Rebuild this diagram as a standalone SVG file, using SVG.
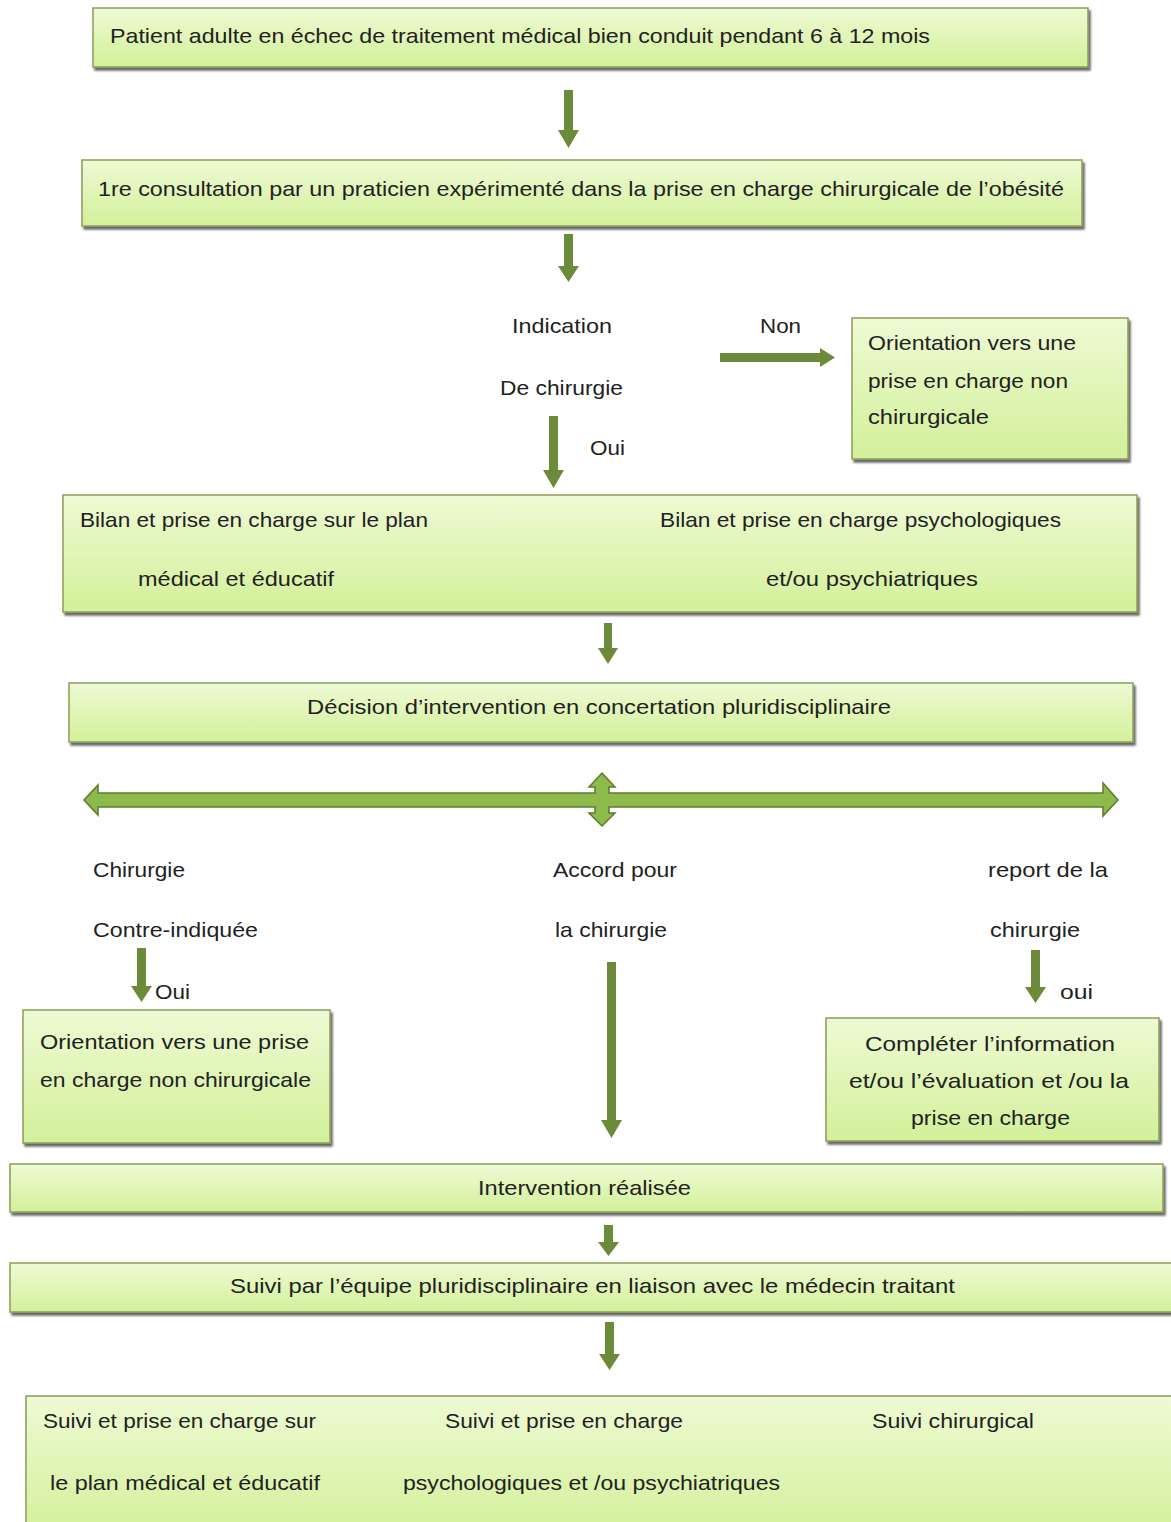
<svg xmlns="http://www.w3.org/2000/svg" width="1171" height="1522" viewBox="0 0 1171 1522">
<defs>
<linearGradient id="g" x1="0" y1="0" x2="0" y2="1">
<stop offset="0" stop-color="#eefad4"/>
<stop offset="1" stop-color="#d3f09a"/>
</linearGradient>
<filter id="sh" x="-5%" y="-20%" width="110%" height="140%">
<feGaussianBlur in="SourceAlpha" stdDeviation="1.2"/>
<feOffset dx="2" dy="3"/>
<feComponentTransfer><feFuncA type="linear" slope="0.6"/></feComponentTransfer>
<feMerge><feMergeNode/><feMergeNode in="SourceGraphic"/></feMerge>
</filter>
</defs>
<style>
.box{fill:url(#g);stroke:#8c9c5a;stroke-width:1.5;filter:url(#sh)}
text{font-family:"Liberation Sans",Arial,sans-serif;font-size:21px;fill:#222}
.arr{fill:#6b8a3a}
.big{fill:#8dba4b;stroke:#5b7b2c;stroke-width:1.5}
</style>
<rect width="1171" height="1522" fill="#ffffff"/>

<g id="n1"><rect class="box" x="93" y="8" width="995" height="59"/>
<text x="110" y="43" textLength="820" lengthAdjust="spacingAndGlyphs">Patient adulte en échec de traitement médical bien conduit pendant 6 à 12 mois</text></g>

<g id="n2"><rect class="box" x="82" y="160" width="1000" height="66"/>
<text x="98" y="196" textLength="966" lengthAdjust="spacingAndGlyphs">1re consultation par un praticien expérimenté dans la prise en charge chirurgicale de l’obésité</text></g>

<g id="n3"><text x="512" y="333" textLength="100" lengthAdjust="spacingAndGlyphs">Indication</text>
<text x="500" y="395" textLength="123" lengthAdjust="spacingAndGlyphs">De chirurgie</text></g>

<g id="n4"><rect class="box" x="852" y="318" width="276" height="141"/>
<text x="868" y="350" textLength="208" lengthAdjust="spacingAndGlyphs">Orientation vers une</text>
<text x="868" y="388" textLength="200" lengthAdjust="spacingAndGlyphs">prise en charge non</text>
<text x="868" y="424" textLength="121" lengthAdjust="spacingAndGlyphs">chirurgicale</text></g>

<g id="n5"><rect class="box" x="63" y="495" width="1074" height="117"/>
<text x="80" y="527" textLength="348" lengthAdjust="spacingAndGlyphs">Bilan et prise en charge sur le plan</text>
<text x="138" y="586" textLength="196" lengthAdjust="spacingAndGlyphs">médical et éducatif</text>
<text x="660" y="527" textLength="401" lengthAdjust="spacingAndGlyphs">Bilan et prise en charge psychologiques</text>
<text x="766" y="586" textLength="212" lengthAdjust="spacingAndGlyphs">et/ou psychiatriques</text></g>

<g id="n6"><rect class="box" x="69" y="683" width="1064" height="59"/>
<text x="307" y="714" textLength="584" lengthAdjust="spacingAndGlyphs">Décision d’intervention en concertation pluridisciplinaire</text></g>

<g id="n7"><text x="93" y="877" textLength="92" lengthAdjust="spacingAndGlyphs">Chirurgie</text>
<text x="93" y="937" textLength="165" lengthAdjust="spacingAndGlyphs">Contre-indiquée</text></g>
<g id="n8"><text x="553" y="877" textLength="124" lengthAdjust="spacingAndGlyphs">Accord pour</text>
<text x="555" y="937" textLength="112" lengthAdjust="spacingAndGlyphs">la chirurgie</text></g>
<g id="n9"><text x="988" y="877" textLength="120" lengthAdjust="spacingAndGlyphs">report de la</text>
<text x="990" y="937" textLength="90" lengthAdjust="spacingAndGlyphs">chirurgie</text></g>

<g id="n10"><rect class="box" x="23" y="1010" width="307" height="133"/>
<text x="40" y="1049" textLength="269" lengthAdjust="spacingAndGlyphs">Orientation vers une prise</text>
<text x="40" y="1087" textLength="271" lengthAdjust="spacingAndGlyphs">en charge non chirurgicale</text></g>

<g id="n11"><rect class="box" x="826" y="1018" width="333" height="123"/>
<text x="865" y="1051" textLength="250" lengthAdjust="spacingAndGlyphs">Compléter l’information</text>
<text x="849" y="1088" textLength="280" lengthAdjust="spacingAndGlyphs">et/ou l’évaluation et /ou la</text>
<text x="911" y="1125" textLength="159" lengthAdjust="spacingAndGlyphs">prise en charge</text></g>

<g id="n12"><rect class="box" x="10" y="1164" width="1153" height="48"/>
<text x="478" y="1195" textLength="213" lengthAdjust="spacingAndGlyphs">Intervention réalisée</text></g>

<g id="n13"><rect class="box" x="10" y="1263" width="1166" height="49"/>
<text x="230" y="1293" textLength="725" lengthAdjust="spacingAndGlyphs">Suivi par l’équipe pluridisciplinaire en liaison avec le médecin traitant</text></g>

<g id="n14"><rect class="box" x="26" y="1396" width="1150" height="140"/>
<text x="43" y="1428" textLength="273" lengthAdjust="spacingAndGlyphs">Suivi et prise en charge sur</text>
<text x="50" y="1490" textLength="270" lengthAdjust="spacingAndGlyphs">le plan médical et éducatif</text>
<text x="445" y="1428" textLength="238" lengthAdjust="spacingAndGlyphs">Suivi et prise en charge</text>
<text x="403" y="1490" textLength="377" lengthAdjust="spacingAndGlyphs">psychologiques et /ou psychiatriques</text>
<text x="872" y="1428" textLength="162" lengthAdjust="spacingAndGlyphs">Suivi chirurgical</text></g>

<g id="connectors">
<polygon class="arr" points="564,90 573,90 573,130 579,130 568.5,148 558,130 564,130"/>
<polygon class="arr" points="564,234 573,234 573,266 579,266 568.5,282 558,266 564,266"/>
<polygon class="arr" points="720,353 820,353 820,348 835,357.5 820,367 820,362 720,362"/>
<text x="760" y="333" textLength="41" lengthAdjust="spacingAndGlyphs">Non</text>
<polygon class="arr" points="549,416 558,416 558,470 564,470 553.5,488 543,470 549,470"/>
<text x="590" y="455" textLength="35" lengthAdjust="spacingAndGlyphs">Oui</text>
<polygon class="arr" points="604,623 612,623 612,648 618,648 608,664 598,648 604,648"/>
<polygon class="big" points="84,800 98,785 98,793 595,793 595,787 589,787 602,773 615,787 609,787 609,793 1103,793 1103,783 1118,800 1103,816 1103,807 609,807 609,813 615,813 602,826 589,813 595,813 595,807 98,807 98,815"/>
<polygon class="arr" points="137,948 146,948 146,986 152,986 141.5,1002 131,986 137,986"/>
<text x="155" y="999" textLength="35" lengthAdjust="spacingAndGlyphs">Oui</text>
<polygon class="arr" points="607,962 616,962 616,1120 622,1120 611.5,1138 601,1120 607,1120"/>
<polygon class="arr" points="1031,950 1040,950 1040,987 1046,987 1035.5,1003 1025,987 1031,987"/>
<text x="1060" y="999" textLength="33" lengthAdjust="spacingAndGlyphs">oui</text>
<polygon class="arr" points="604,1225 613,1225 613,1242 619,1242 608.5,1256 598,1242 604,1242"/>
<polygon class="arr" points="605,1322 614,1322 614,1354 620,1354 609.5,1370 599,1354 605,1354"/>
</g>
</svg>
